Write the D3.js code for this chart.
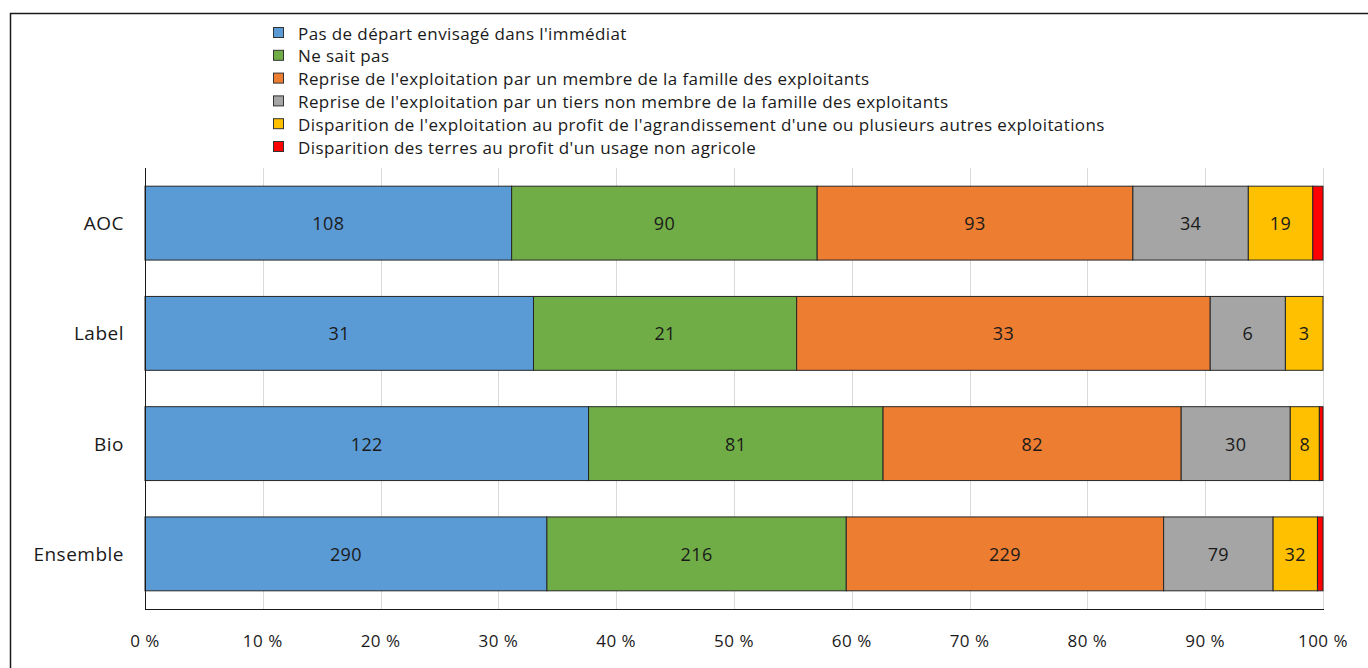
<!DOCTYPE html>
<meta charset="utf-8">
<style>
  body { margin: 0; background: #fff; }
  text { font-family: "Open Sans", sans-serif; fill: #1a1a1a; }
  .grid line { stroke: #d9d9d9; stroke-width: 1px; }
  .seg { stroke: #262626; stroke-width: 1px; }
</style>
<body>
<script src="https://d3js.org/d3.v7.min.js"></script>
<script>
// categories, top to bottom
const categories = ["AOC", "Label", "Bio", "Ensemble"];

const series = [
  "Pas de départ envisagé dans l'immédiat",
  "Ne sait pas",
  "Reprise de l'exploitation par un membre de la famille des exploitants",
  "Reprise de l'exploitation par un tiers non membre de la famille des exploitants",
  "Disparition de l'exploitation au profit de l'agrandissement d'une ou plusieurs autres exploitations",
  "Disparition des terres au profit d'un usage non agricole"
];

const colors = ["#5b9bd5", "#70ad47", "#ed7d31", "#a5a5a5", "#ffc000", "#ff0000"];

// counts per category, one array per series
const departNon   = [108, 31, 122, 290];
const neSaitPas   = [90, 21, 81, 216];
const repFamille  = [93, 33, 82, 229];
const repTiers    = [34, 6, 30, 79];
const agrandis    = [19, 3, 8, 32];
const nonAgricole = [3, 0, 1, 4];

const seriesValues = [departNon, neSaitPas, repFamille, repTiers, agrandis, nonAgricole];
const tickValues = [0, 0.1, 0.2, 0.3, 0.4, 0.5, 0.6, 0.7, 0.8, 0.9, 1];

const W = 1368, H = 668;
const plot = {left: 145, right: 1323, top: 168, bottom: 609};

const svg = d3.select("body").append("svg")
  .attr("width", W).attr("height", H);

// outer frame (runs off the right and bottom edges)
svg.append("rect")
  .attr("x", 10.5).attr("y", 13.5)
  .attr("width", W + 20).attr("height", H + 20)
  .attr("fill", "none").attr("stroke", "#1a1a1a").attr("stroke-width", 1.5);

const x = d3.scaleLinear().domain([0, 1]).range([plot.left, plot.right]);
const y = d3.scaleBand().domain(categories).range([plot.top, plot.bottom]).paddingInner(0.33).paddingOuter(0.165);

// build stacked shares
const rows = categories.map((c, i) => {
  const row = {cat: c};
  series.forEach((s, j) => row[s] = seriesValues[j][i]);
  return row;
});
const stack = d3.stack().keys(series)
  .offset(d3.stackOffsetExpand)(rows);

// gridlines
svg.append("g").attr("class", "grid")
  .selectAll("line").data(tickValues.slice(1)).join("line")
  .attr("x1", d => Math.round(x(d)) + 0.5).attr("x2", d => Math.round(x(d)) + 0.5)
  .attr("y1", plot.top).attr("y2", plot.bottom);

// bars
const layer = svg.append("g").selectAll("g").data(stack).join("g")
  .attr("fill", (d, i) => colors[i]);

layer.selectAll("rect").data(d => d.map(p => ({p, key: d.key}))).join("rect")
  .attr("class", "seg")
  .attr("x", d => x(d.p[0]))
  .attr("y", d => y(d.p.data.cat))
  .attr("width", d => x(d.p[1]) - x(d.p[0]))
  .attr("height", y.bandwidth());

// value labels (skip the tiny red segments)
stack.forEach((s, j) => {
  if (j === 5) return;
  svg.append("g").selectAll("text").data(s).join("text")
    .attr("x", d => (x(d[0]) + x(d[1])) / 2)
    .attr("y", d => y(d.data.cat) + y.bandwidth() / 2)
    .attr("text-anchor", "middle")
    .attr("dominant-baseline", "central")
    .style("font-size", "18px")
    .style("letter-spacing", "0.4px")
    .text(d => d.data[s.key]);
});

// axes lines
svg.append("line")
  .attr("x1", plot.left + 0.5).attr("x2", plot.left + 0.5)
  .attr("y1", plot.top).attr("y2", plot.bottom)
  .attr("stroke", "#1a1a1a");
svg.append("line")
  .attr("x1", plot.left).attr("x2", plot.right + 1)
  .attr("y1", plot.bottom + 0.5).attr("y2", plot.bottom + 0.5)
  .attr("stroke", "#1a1a1a");

// x tick labels
svg.append("g").selectAll("text").data(tickValues).join("text")
  .attr("x", d => x(d))
  .attr("y", 640)
  .attr("text-anchor", "middle")
  .attr("dominant-baseline", "central")
  .style("font-size", "17px")
  .style("letter-spacing", "0.5px")
  .text(d => Math.round(d * 100) + " %");

// category labels
svg.append("g").selectAll("text").data(categories).join("text")
  .attr("x", 124)
  .attr("y", d => y(d) + y.bandwidth() / 2)
  .attr("text-anchor", "end")
  .attr("dominant-baseline", "central")
  .style("font-size", "19px")
  .style("letter-spacing", "0.5px")
  .text(d => d);

// legend
const legend = svg.append("g").attr("transform", "translate(273,33)");
const item = legend.selectAll("g").data(series).join("g")
  .attr("transform", (d, i) => `translate(0,${i * 22.8})`);
item.append("rect")
  .attr("x", 0.5).attr("y", -5.5).attr("width", 10).attr("height", 10)
  .attr("fill", (d, i) => colors[i])
  .attr("stroke", "#333");
item.append("text")
  .attr("x", 25).attr("y", 0)
  .attr("dominant-baseline", "central")
  .style("font-size", "17px")
  .style("letter-spacing", "0.4px")
  .text(d => d);
</script>
</body>
